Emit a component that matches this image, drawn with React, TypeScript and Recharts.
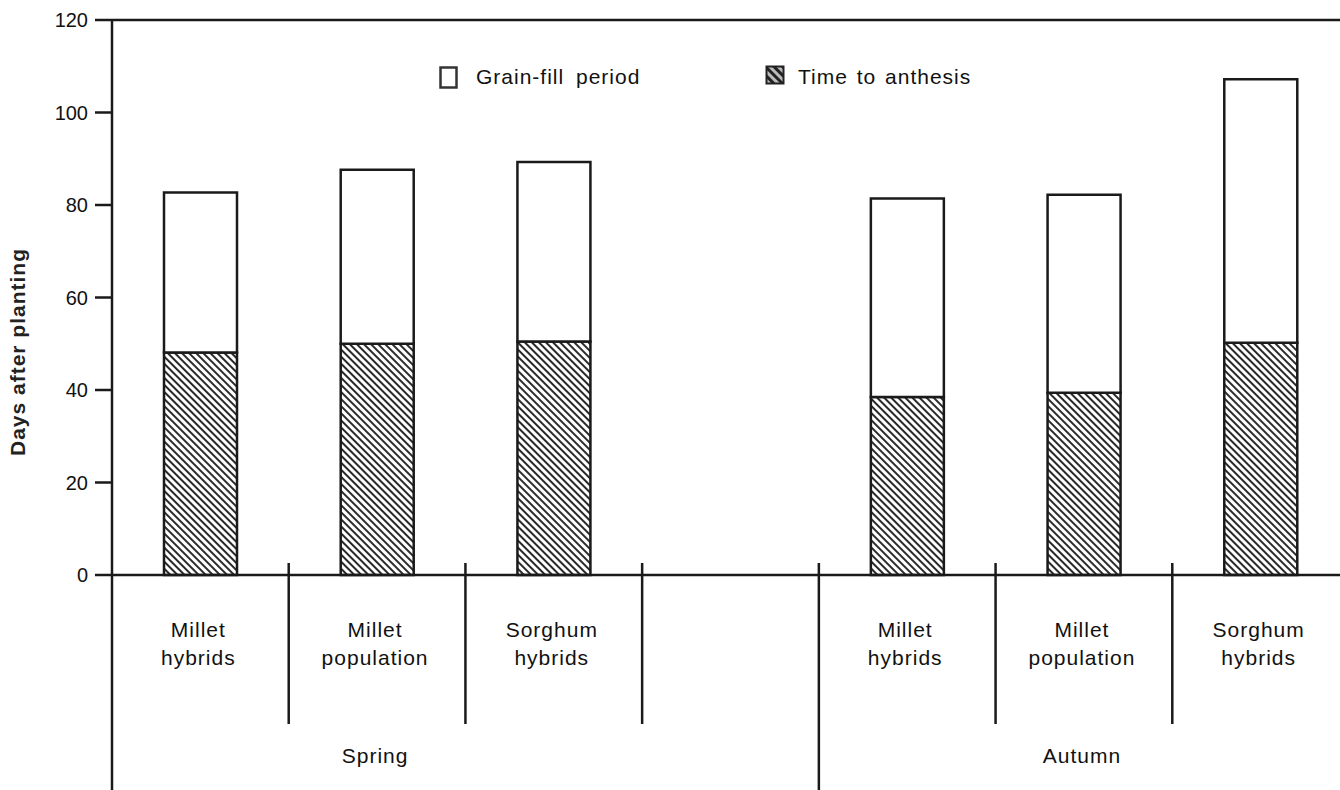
import React from 'react';
import { BarChart, Bar, XAxis, YAxis, ReferenceLine, Legend, Label } from 'recharts';

// categories along the x axis; the empty slot separates the two seasons
const crops = [
  'Millet\nhybrids',
  'Millet\npopulation',
  'Sorghum\nhybrids',
  '',
  'Millet\nhybrids',
  'Millet\npopulation',
  'Sorghum\nhybrids',
];
const seasonOf = ['Spring', 'Spring', 'Spring', '', 'Autumn', 'Autumn', 'Autumn'];

// days after planting
const timeToAnthesis = [48.1, 50.0, 50.5, null, 38.5, 39.4, 50.2];
const grainFillPeriod = [34.6, 37.6, 38.8, null, 42.9, 42.8, 57.0];

const yTicks = [0, 20, 40, 60, 80, 100, 120];
const seriesNames = ['Grain-fill period', 'Time to anthesis'];

const data = crops.map((crop, i) => ({
  key: `c${i}`,
  crop,
  anthesis: timeToAnthesis[i],
  grainFill: grainFillPeriod[i],
}));

const FONT = '"Liberation Sans", Arial, Helvetica, sans-serif';
const INK = '#1a1a1a';
const CHART_W = 1350;
const CHART_H = 790;
const Y_AXIS_W = 112;
const X_AXIS_H = 215;
const MARGIN = { top: 20, right: 1, bottom: 0, left: 0 };
const BAND = (CHART_W - Y_AXIS_W - MARGIN.right) / crops.length;

const CropTick = (props: any) => {
  const { x, y, index } = props;
  const label = crops[index] || '';
  const lines = label ? label.split('\n') : [];
  const group = seasonOf[index];
  const members = seasonOf
    .map((s, i) => (group && s === group ? i : -1))
    .filter((i) => i >= 0);
  const isMiddle = !!group && members[Math.floor(members.length / 2)] === index;
  const rightX = x + BAND / 2;
  const tall = seasonOf[index] === '';
  return (
    <g>
      {index === 0 && (
        <line x1={x - BAND / 2} x2={x - BAND / 2} y1={y} y2={CHART_H} stroke={INK} strokeWidth={2.5} />
      )}
      {index < crops.length - 1 && (
        <line
          x1={rightX}
          x2={rightX}
          y1={y - 12}
          y2={tall ? CHART_H : y + 149}
          stroke={INK}
          strokeWidth={2.5}
        />
      )}
      {lines.length > 0 && (
        <text textAnchor="middle" fontFamily={FONT} fontSize={21} letterSpacing={1} fill="#111">
          {lines.map((l, i) => (
            <tspan key={i} x={x - 2} y={y + 62 + i * 28}>
              {l}
            </tspan>
          ))}
        </text>
      )}
      {isMiddle && (
        <text x={x - 2} y={y + 188} textAnchor="middle" fontFamily={FONT} fontSize={21} letterSpacing={1} fill="#111">
          {group}
        </text>
      )}
    </g>
  );
};

const LegendBox = () => (
  <div style={{ position: 'relative', width: 600, height: 26, fontFamily: FONT, fontSize: 21, color: '#111' }}>
    <svg width={20} height={24} style={{ position: 'absolute', left: 2, top: 0 }}>
      <rect x={1.5} y={1.5} width={16} height={20} fill="#fff" stroke="#333" strokeWidth={2.5} />
    </svg>
    <span style={{ position: 'absolute', left: 39, top: -1, letterSpacing: 1, wordSpacing: 5, whiteSpace: 'pre' }}>
      {seriesNames[0]}
    </span>
    <svg width={20} height={24} style={{ position: 'absolute', left: 328, top: -2 }}>
      <defs>
        <pattern id="hatchLegend" patternUnits="userSpaceOnUse" width={6} height={6} patternTransform="rotate(45)">
          <rect width={6} height={6} fill="#bbb" />
          <rect width={6} height={3} fill="#222" />
        </pattern>
      </defs>
      <rect x={1.5} y={2.5} width={17} height={17} fill="url(#hatchLegend)" stroke="#222" strokeWidth={2} />
    </svg>
    <span style={{ position: 'absolute', left: 361, top: -1, letterSpacing: 1, wordSpacing: 2, whiteSpace: 'pre' }}>
      {seriesNames[1]}
    </span>
  </div>
);

const App: React.FC = () => {
  return (
    <div
      style={{
        position: 'absolute',
        left: 0,
        top: 0,
        width: 1340,
        height: CHART_H,
        overflow: 'hidden',
        background: '#fff',
        fontFamily: FONT,
      }}
    >
      <BarChart width={CHART_W} height={CHART_H} data={data} margin={MARGIN}>
        <defs>
          <pattern id="hatch" patternUnits="userSpaceOnUse" width={5} height={5} patternTransform="rotate(45)">
            <rect width={5} height={5} fill="#fff" />
            <rect width={5} height={2} fill="#2a2a2a" />
          </pattern>
        </defs>
        <XAxis
          dataKey="key"
          height={X_AXIS_H}
          interval={0}
          tickLine={false}
          tickSize={0}
          tickMargin={0}
          axisLine={{ stroke: INK, strokeWidth: 2.5 }}
          tick={<CropTick />}
        />
        <YAxis
          width={Y_AXIS_W}
          domain={[0, 120]}
          ticks={yTicks}
          interval={0}
          tickSize={17}
          tickMargin={7}
          axisLine={{ stroke: INK, strokeWidth: 2.5 }}
          tickLine={{ stroke: INK, strokeWidth: 2.5 }}
          tick={{ fill: '#111', fontSize: 20, fontFamily: FONT }}
        >
          <Label
            content={() => (
              <text
                x={25}
                y={352}
                transform="rotate(-90 25 352)"
                textAnchor="middle"
                fontFamily={FONT}
                fontSize={21}
                fontWeight="bold"
                letterSpacing={1}
                fill="#222"
              >
                Days after planting
              </text>
            )}
          />
        </YAxis>
        <ReferenceLine y={120} stroke={INK} strokeWidth={2.5} />
        <Legend
          layout="horizontal"
          verticalAlign="middle"
          align="center"
          wrapperStyle={{ top: 66, left: 437, width: 600, height: 26 }}
          content={() => <LegendBox />}
        />
        <Bar
          dataKey="anthesis"
          name={seriesNames[1]}
          stackId="days"
          fill="url(#hatch)"
          stroke={INK}
          strokeWidth={2.5}
          barSize={73}
          isAnimationActive={false}
        />
        <Bar
          dataKey="grainFill"
          name={seriesNames[0]}
          stackId="days"
          fill="#fff"
          stroke={INK}
          strokeWidth={2.5}
          barSize={73}
          isAnimationActive={false}
        />
      </BarChart>
    </div>
  );
};

export default App;
